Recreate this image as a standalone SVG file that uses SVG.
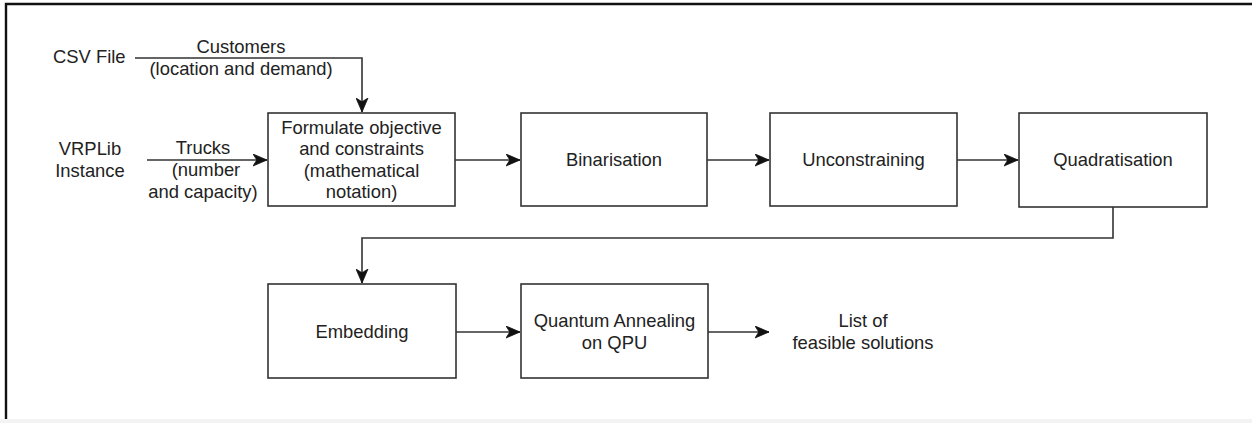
<svg xmlns="http://www.w3.org/2000/svg" width="1252" height="423" viewBox="0 0 1252 423">
  <style>
    .box { fill: #ffffff; stroke: #333333; stroke-width: 1.6; }
    .edge { fill: none; stroke: #333333; stroke-width: 1.6; }
    .lbl { font-family: "Liberation Sans", Arial, Helvetica, sans-serif; font-size: 18.4px; fill: #222222; text-anchor: middle; }
    .lbl-start { text-anchor: start; }
  </style>
  <defs>
    <marker id="arrow" markerUnits="userSpaceOnUse" markerWidth="15" markerHeight="13" viewBox="0 0 15 13" refX="14" refY="6.5" orient="auto">
      <path d="M0,0.5 L14,6.5 L0,12.5 L3.8,6.5 Z" fill="#111111" stroke="#111111" stroke-width="0.8" stroke-linejoin="miter"/>
    </marker>
  </defs>

  <rect x="0" y="0" width="1252" height="423" fill="#ffffff"/>
  <rect x="0" y="419" width="1252" height="4" fill="#f3f3f3"/>
  <g id="frame">
    <path d="M6,419 V4 H1252" fill="none" stroke="#111111" stroke-width="2.4"/>
  </g>

  <g id="connectors">
    <path class="edge" d="M135,58 H362 V112" marker-end="url(#arrow)"/>
    <path class="edge" d="M147,160 H267" marker-end="url(#arrow)"/>
    <path class="edge" d="M455,160 H520" marker-end="url(#arrow)"/>
    <path class="edge" d="M707,160 H769" marker-end="url(#arrow)"/>
    <path class="edge" d="M957,160 H1018" marker-end="url(#arrow)"/>
    <path class="edge" d="M1113,207 V238 H362 V283" marker-end="url(#arrow)"/>
    <path class="edge" d="M456,332 H520" marker-end="url(#arrow)"/>
    <path class="edge" d="M708,332 H769" marker-end="url(#arrow)"/>
    <text class="lbl" x="241" y="53">Customers</text>
    <text class="lbl" x="241" y="75">(location and demand)</text>
    <text class="lbl" x="203" y="154">Trucks</text>
    <text class="lbl" x="206" y="176">(number</text>
    <text class="lbl" x="203" y="198">and capacity)</text>
  </g>

  <g id="csv-file">
    <text class="lbl lbl-start" x="53" y="63">CSV File</text>
  </g>

  <g id="vrplib-instance">
    <text class="lbl" x="90" y="154.5">VRPLib</text>
    <text class="lbl" x="90" y="176.5">Instance</text>
  </g>

  <g id="formulate">
    <rect class="box" x="268" y="113" width="187" height="93"/>
    <text class="lbl" x="361.5" y="133.5">Formulate objective</text>
    <text class="lbl" x="361.5" y="155">and constraints</text>
    <text class="lbl" x="361.5" y="176.5">(mathematical</text>
    <text class="lbl" x="361.5" y="198">notation)</text>
  </g>

  <g id="binarisation">
    <rect class="box" x="521" y="113" width="186" height="93"/>
    <text class="lbl" x="614" y="166">Binarisation</text>
  </g>

  <g id="unconstraining">
    <rect class="box" x="770" y="113" width="187" height="93"/>
    <text class="lbl" x="863.5" y="166">Unconstraining</text>
  </g>

  <g id="quadratisation">
    <rect class="box" x="1019" y="113" width="188" height="94"/>
    <text class="lbl" x="1113" y="166">Quadratisation</text>
  </g>

  <g id="embedding">
    <rect class="box" x="268" y="284" width="188" height="94"/>
    <text class="lbl" x="362" y="337.5">Embedding</text>
  </g>

  <g id="quantum-annealing">
    <rect class="box" x="521" y="284" width="187" height="94"/>
    <text class="lbl" x="614.5" y="326.5">Quantum Annealing</text>
    <text class="lbl" x="614.5" y="348.5">on QPU</text>
  </g>

  <g id="feasible-solutions">
    <text class="lbl" x="863" y="326.5">List of</text>
    <text class="lbl" x="863" y="348.5">feasible solutions</text>
  </g>
</svg>
